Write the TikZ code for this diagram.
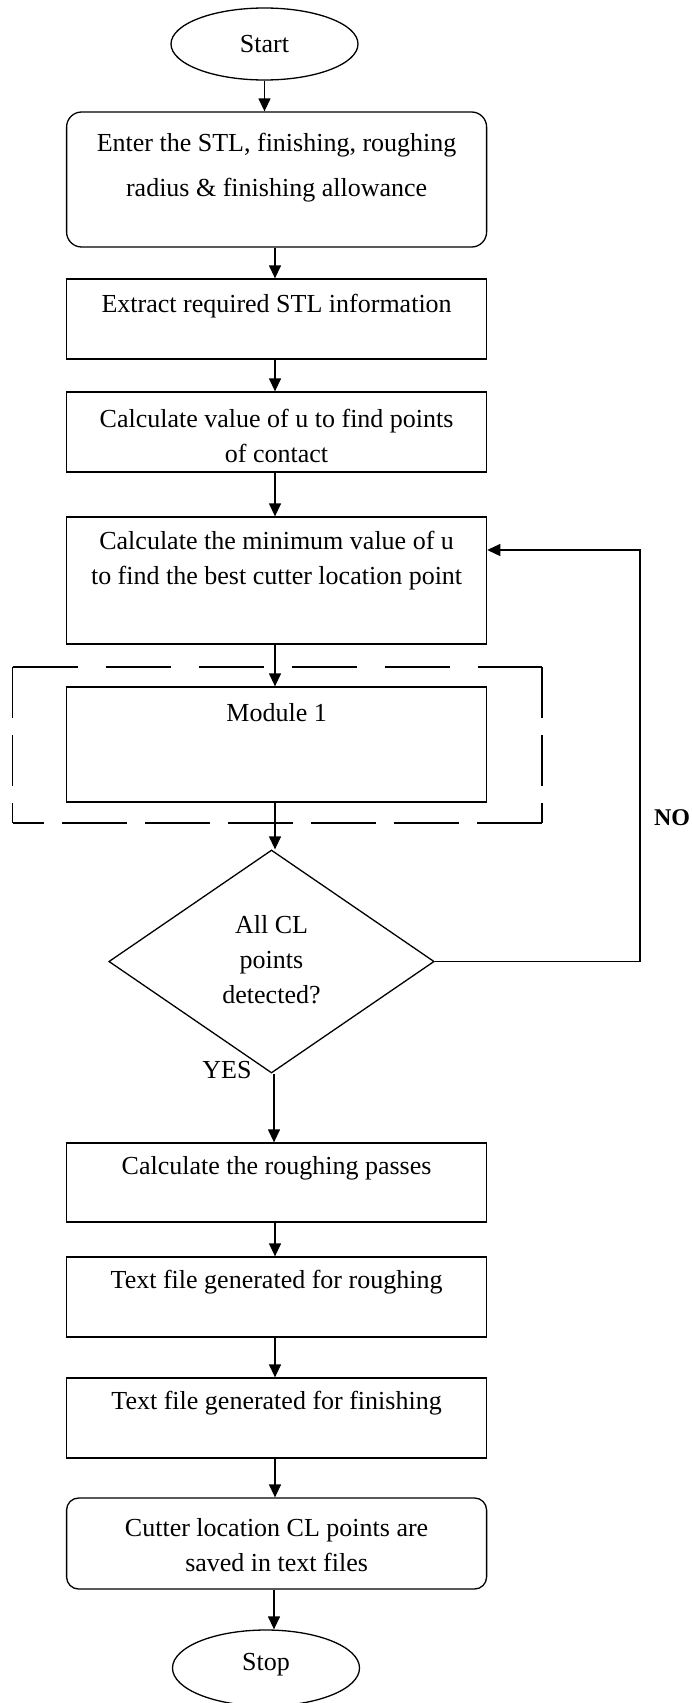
\documentclass[tikz,border=0pt]{standalone}
\usepackage{fontspec}
\setmainfont{Liberation Serif}
\usetikzlibrary{shapes.geometric,arrows.meta}
\begin{document}
\begin{tikzpicture}[x=1pt,y=-1pt,
  line width=1.3pt,
  flowbox/.style={draw,rectangle,minimum width=420pt,inner sep=0pt},
  roundbox/.style={flowbox,rounded corners=15pt},
  txt/.style={align=center,inner sep=0pt,font=\fontsize{26}{35}\selectfont},
  oval/.style={draw,ellipse,minimum width=187pt,minimum height=72pt,inner sep=0pt,font=\fontsize{26}{30}\selectfont},
  arr/.style={-{Triangle[length=13pt,width=12pt]},line width=1.3pt},
  hdash/.style={line width=1.2pt,dash pattern=on 65pt off 28pt},
  vdash/.style={line width=1.2pt,dash pattern=on 51pt off 17pt}]
\useasboundingbox (0,0) rectangle (692,1703);

% terminals
\node[oval] (start) at (264.5,44) {Start};
\node[oval,minimum height=76pt] (stop) at (266,1668) {};
\node[inner sep=0pt,font=\fontsize{26}{30}\selectfont] (stoptxt) at (266,1665) {Stop};

% process boxes
\node[roundbox,minimum height=135pt] (b1) at (276.6,179.5) {};
\node[txt,font=\fontsize{26}{45}\selectfont] (t1) at (276.6,167.5) {Enter the STL, finishing, roughing\\radius \& finishing allowance};
\node[flowbox,minimum height=80pt] (b2) at (276.6,319) {};
\node[txt] (t2) at (276.6,306) {Extract required STL information};
\node[flowbox,minimum height=80pt] (b3) at (276.6,432) {};
\node[txt] (t3) at (276.6,435.5) {Calculate value of u to find points\\of contact};
\node[flowbox,minimum height=127pt] (b4) at (276.6,580.5) {};
\node[txt] (t4) at (276.6,561) {Calculate the minimum value of u\\to find the best cutter location point};

% module with its dashed frame, each side dashed from its own corner
\coordinate (fTL) at (12.7,667);
\coordinate (fTR) at (542,667);
\coordinate (fBR) at (542,823);
\coordinate (fBL) at (12.7,823);
\draw[hdash] (fTL) -- (fTR);
\draw[vdash] (fTR) -- (fBR);
\draw[dash pattern=on 65pt off 18pt,line width=1.2pt] (fBR) -- (fBL);
\draw[vdash] (fTL) -- (fBL);
\node[flowbox,minimum height=115pt] (mod) at (276.6,744.5) {};
\node[txt] (tm) at (276.6,713) {Module 1};

% decision
\node[draw,diamond,minimum width=325.4pt,minimum height=223pt,inner sep=0pt] (dec) at (271.5,961.5) {};
\node[txt] (td) at (271.5,960) {All CL\\points\\detected?};
\node[inner sep=0pt,font=\fontsize{26}{30}\selectfont] (yes) at (227,1070) {YES};
\node[inner sep=0pt,font=\fontsize{24}{28}\selectfont\bfseries] (no) at (672,818) {NO};

\node[flowbox,minimum height=79pt] (b5) at (276.6,1182.5) {};
\node[txt] (t5) at (276.6,1168) {Calculate the roughing passes};
\node[flowbox,minimum height=80pt] (b6) at (276.6,1297) {};
\node[txt] (t6) at (276.6,1282) {Text file generated for roughing};
\node[flowbox,minimum height=80pt] (b7) at (276.6,1418) {};
\node[txt] (t7) at (276.6,1403) {Text file generated for finishing};
\node[roundbox,rounded corners=12pt,minimum height=91pt] (b8) at (276.6,1543.5) {};
\node[txt] (t8) at (276.6,1545.5) {Cutter location CL points are\\saved in text files};

% main flow
\draw[arr] (start.south) -- (start.south |- b1.north);
\draw[arr] (b1.south -| 275,0) -- (b2.north -| 275,0);
\draw[arr] (b2.south -| 275,0) -- (b3.north -| 275,0);
\draw[arr] (b3.south -| 275,0) -- (b4.north -| 275,0);
\draw[arr] (b4.south -| 275,0) -- (mod.north -| 275,0);
\draw[arr] (mod.south -| 275,0) -- (dec.north -| 275,0);
\draw[arr] (dec.south -| 274,0) -- (b5.north -| 274,0);
\draw[arr] (b5.south -| 275,0) -- (b6.north -| 275,0);
\draw[arr] (b6.south -| 275,0) -- (b7.north -| 275,0);
\draw[arr] (b7.south -| 275,0) -- (b8.north -| 275,0);
\draw[arr] (b8.south -| 274,0) -- (stop.north -| 274,0);

% loop back when not all points are found
\coordinate (loopA) at (640,961.5);
\coordinate (loopB) at (640,550);
\draw[arr,line width=1.2pt] (dec.east) -- (loopA) -- (loopB) -- (b4.east |- loopB);
\end{tikzpicture}
\end{document}
